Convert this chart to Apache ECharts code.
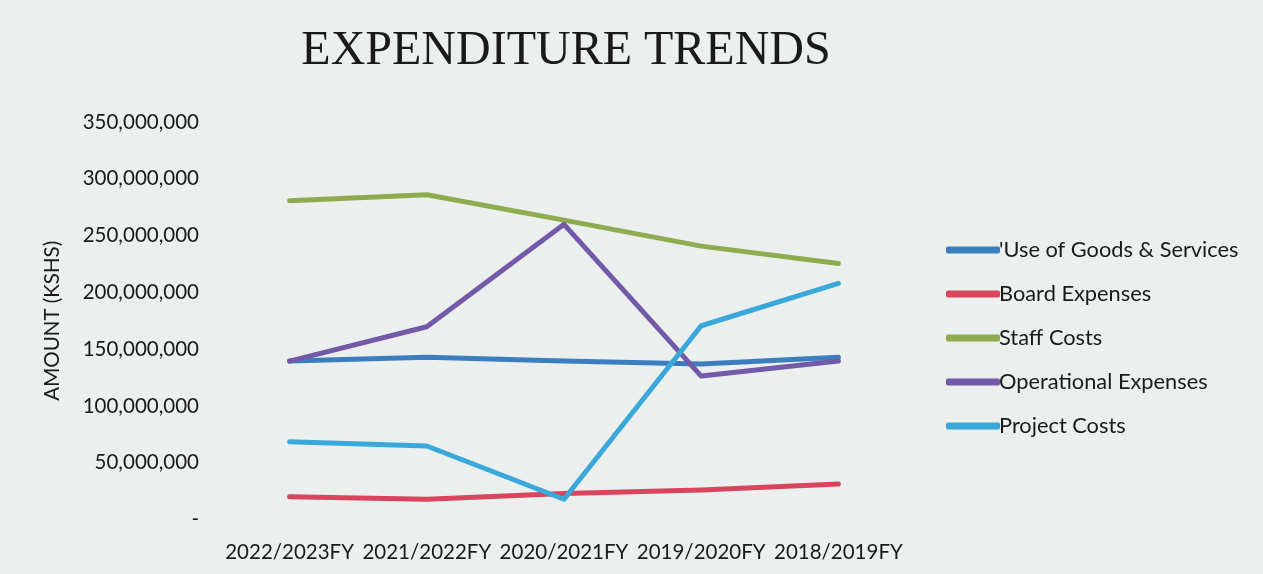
<!DOCTYPE html>
<html>
<head>
<meta charset="utf-8">
<script src="https://cdn.jsdelivr.net/npm/echarts@6/dist/echarts.min.js"></script>
<style>
  html, body { margin: 0; padding: 0; background: #ebefed; }
  #chart { width: 1263px; height: 574px; }
</style>
</head>
<body>
<div id="chart"></div>
<script>
const years = ['2022/2023FY', '2021/2022FY', '2020/2021FY', '2019/2020FY', '2018/2019FY'];
const goodsServices = [139500000, 142800000, 139500000, 136900000, 142800000];
const boardExpenses = [20000000, 17800000, 23000000, 26000000, 31200000];
const staffCosts = [280600000, 286000000, 263600000, 240700000, 225500000];
const operational = [139500000, 169700000, 259900000, 126300000, 139500000];
const projectCosts = [68500000, 64700000, 17800000, 170600000, 207900000];

const font = 'Lato, "Open Sans", sans-serif';

function mkLine(name, data, color) {
  return {
    name: name,
    type: 'line',
    data: data,
    symbol: 'none',
    lineStyle: { width: 5, color: color, cap: 'round', join: 'round' },
    itemStyle: { color: color }
  };
}

const chart = echarts.init(document.getElementById('chart'));
chart.setOption({
  backgroundColor: '#ebefed',
  animation: false,
  title: {
    text: 'EXPENDITURE TRENDS',
    left: 561,
    textAlign: 'center',
    top: 22,
    textStyle: { fontFamily: '"Liberation Serif", serif', fontSize: 48, fontWeight: 'normal', color: '#1a1a1a' }
  },
  legend: {
    orient: 'vertical',
    left: 941,
    top: 233,
    icon: 'roundRect',
    itemWidth: 54,
    itemHeight: 7,
    itemGap: 20,
    textStyle: { fontFamily: font, fontSize: 21.8, color: '#1a1a1a', lineHeight: 24, padding: [0, 0, 0, -6] },
    data: ["'Use of Goods & Services", 'Board Expenses', 'Staff Costs', 'Operational Expenses', 'Project Costs']
  },
  grid: { left: 221, right: 1263 - 907, top: 122, bottom: 574 - 519.5 },
  xAxis: {
    type: 'category',
    data: years,
    axisLine: { show: false },
    axisTick: { show: false },
    axisLabel: { fontFamily: font, fontSize: 20.5, color: '#1a1a1a', margin: 22, interval: 0 }
  },
  yAxis: {
    type: 'value',
    min: 0,
    max: 350000000,
    interval: 50000000,
    name: 'AMOUNT (KSHS)',
    nameLocation: 'middle',
    nameGap: 158,
    nameTextStyle: { fontFamily: font, fontSize: 20.5, color: '#1a1a1a' },
    splitLine: { show: false },
    axisLine: { show: false },
    axisTick: { show: false },
    axisLabel: {
      fontFamily: font, fontSize: 20.5, color: '#1a1a1a', margin: 22,
      formatter: v => v === 0 ? '-' : v.toLocaleString('en-US')
    }
  },
  series: [
    mkLine("'Use of Goods & Services", goodsServices, '#3b7ec0'),
    mkLine('Board Expenses', boardExpenses, '#d8455c'),
    mkLine('Staff Costs', staffCosts, '#8eab50'),
    mkLine('Operational Expenses', operational, '#735aa8'),
    mkLine('Project Costs', projectCosts, '#3ba8dc')
  ]
});
</script>
</body>
</html>
